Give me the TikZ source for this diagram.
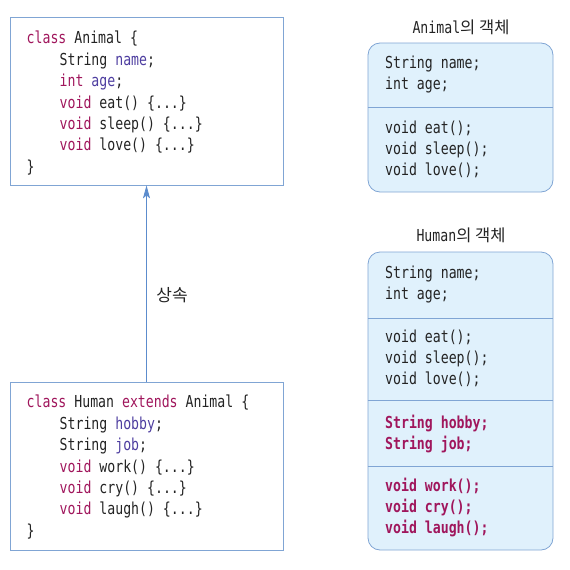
\documentclass[tikz,border=0pt]{standalone}
\usepackage{fontspec}
\usetikzlibrary{arrows.meta}
\newfontfamily\code[FakeStretch=0.8]{DejaVu Sans Mono}
\newfontfamily\kr{Noto Sans CJK KR}
\definecolor{kwcol}{RGB}{160,22,92}
\definecolor{idcol}{RGB}{78,62,160}
\definecolor{inkcol}{RGB}{35,35,35}
\definecolor{boxline}{RGB}{128,165,212}
\definecolor{objfill}{RGB}{224,241,252}
\definecolor{arrowcol}{RGB}{92,140,205}
\newcommand{\kw}[1]{\textcolor{kwcol}{#1}}
\newcommand{\idn}[1]{\textcolor{idcol}{#1}}
\newcommand{\ind}{\hspace*{33pt}}

\begin{document}
\begin{tikzpicture}[x=1pt,y=-1pt,
    srcbox/.style={draw=boxline,line width=0.8pt,minimum width=273pt,minimum height=168pt,inner sep=0pt},
    srctext/.style={anchor=north west,inner sep=0pt,align=left,text=inkcol,font=\code\fontsize{16.5}{21.4}\selectfont},
    objbox/.style={draw=boxline,fill=objfill,rounded corners=12pt,line width=0.8pt,minimum width=185pt,inner sep=0pt},
    objtext/.style={anchor=north west,inner sep=0pt,align=left,text=inkcol,font=\code\fontsize{16.5}{21}\selectfont},
    objtitle/.style={inner sep=0pt,text=inkcol,font=\code\fontsize{16.5}{18}\selectfont},
    divider/.style={draw=boxline,line width=0.8pt}]
    \useasboundingbox (0,0) rectangle (570,570);

    % source code of the two classes
    \node[srcbox] (asrc) at (146.5,101) {};
    \node[srctext] (acode) at (26.5,31) {\kw{class} Animal \{\\
        \ind String \idn{name};\\
        \ind\kw{int} \idn{age};\\
        \ind\kw{void} eat() \{...\}\\
        \ind\kw{void} sleep() \{...\}\\
        \ind\kw{void} love() \{...\}\\
        \}};
    \node[srcbox] (hsrc) at (146.5,466) {};
    \node[srctext] (hcode) at (26.5,395) {\kw{class} Human \kw{extends} Animal \{\\
        \ind String \idn{hobby};\\
        \ind String \idn{job};\\
        \ind\kw{void} work() \{...\}\\
        \ind\kw{void} cry() \{...\}\\
        \ind\kw{void} laugh() \{...\}\\
        \}};

    % inheritance arrow
    \draw[arrowcol,line width=0.8pt,-{Stealth[length=13pt,width=7pt,inset=3pt]}] (hsrc.north) -- (asrc.south);
    \node[text=inkcol,font=\kr\fontsize{17}{20}\selectfont] (inherit) at (172,295) {상속};

    % Animal object
    \node[objtitle] (atitle) at (461,27) {Animal{\kr\fontsize{16.5}{18}\selectfont 의 객체}};
    \node[objbox,minimum height=149pt] (aobj) at (460.5,117.5) {};
    \draw[divider] (aobj.west |- 0,107) -- (aobj.east |- 0,107);
    \node[objtext] (afields) at (385,56) {String name;\\int age;};
    \node[objtext] (amethods) at (385,121) {void eat();\\void sleep();\\void love();};

    % Human object
    \node[objtitle] (htitle) at (461,235) {Human{\kr\fontsize{16.5}{18}\selectfont 의 객체}};
    \node[objbox,minimum height=298pt] (hobj) at (460.5,401) {};
    \foreach \y in {318,400,466}{
        \draw[divider] (hobj.west |- 0,\y) -- (hobj.east |- 0,\y);
    }
    \node[objtext] (hfields) at (385,266) {String name;\\int age;};
    \node[objtext] (hmethods) at (385,330) {void eat();\\void sleep();\\void love();};
    \node[objtext,text=kwcol,font=\code\bfseries\fontsize{16.5}{21}\selectfont] (hnewf) at (385,415) {String hobby;\\String job;};
    \node[objtext,text=kwcol,font=\code\bfseries\fontsize{16.5}{21}\selectfont] (hnewm) at (385,478) {void work();\\void cry();\\void laugh();};
\end{tikzpicture}
\end{document}
